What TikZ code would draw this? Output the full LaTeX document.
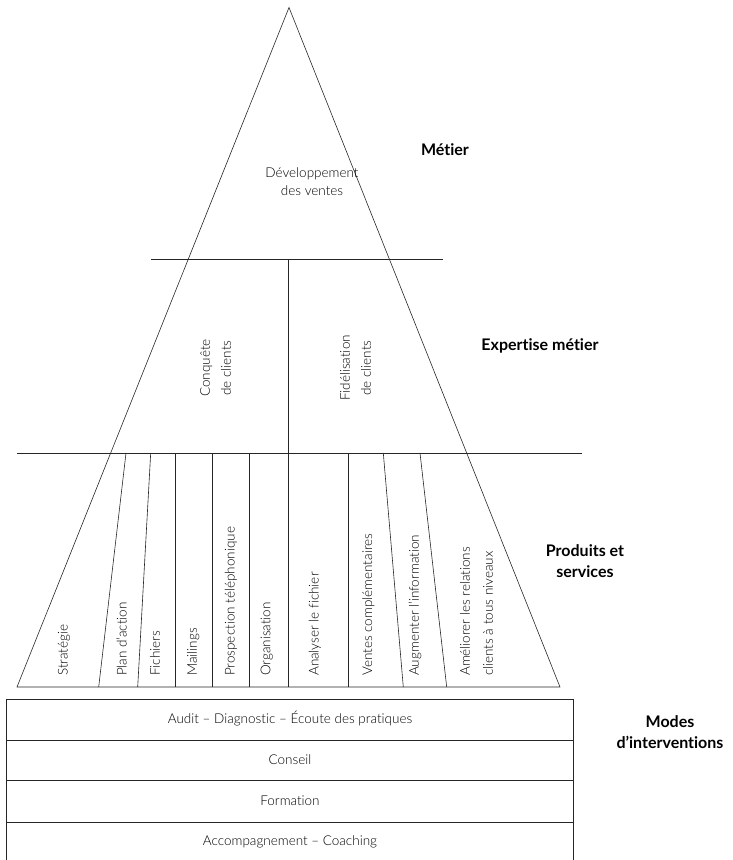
\documentclass[tikz,border=0pt]{standalone}
\usepackage{fontspec}
\IfFontExistsTF{Lato Light}{\setmainfont{Lato Light}[BoldFont={Lato Bold},Ligatures=NoCommon]}{\setmainfont{Lato}[Ligatures=NoCommon]}
\begin{document}
\begin{tikzpicture}[x=1pt,y=-1pt,
  ln/.style={line width=0.6pt,draw=black!85},
  bx/.style={line width=0.9pt,draw=black!85},
  lbl/.style={font=\fontsize{13.5}{18}\selectfont,text=black,inner sep=0pt},
  vlbl/.style={lbl,rotate=90,anchor=west},
  head/.style={font=\fontsize{16}{21}\selectfont\bfseries,text=black,align=center,inner sep=0pt}]
\useasboundingbox (0,0) rectangle (732,860);
% triangle
\coordinate (apex) at (289,7.5);
\coordinate (bl) at (17,687);
\coordinate (br) at (560,687);
\draw[ln] (bl) -- (apex) -- (br) -- cycle;
% horizontal lines
\coordinate (h1a) at (151,259); \coordinate (h1b) at (443,259);
\coordinate (h2a) at (17,453);  \coordinate (h2b) at (582,453);
\draw[ln] (h1a) -- (h1b);
\draw[ln] (h2a) -- (h2b);
\coordinate (vt) at (288,259); \coordinate (vb) at (288,687);
\draw[ln] (vt) -- (vb);
% dividers of bottom layer
\foreach \xa/\xb [count=\i] in {126/98.7,150.7/137.7,175/175,212.3/212.3,249/249,348.3/348.3,383.3/403.3,420/446.7}{
  \coordinate (d\i t) at (\xa,453);
  \coordinate (d\i b) at (\xb,687);
  \draw[ln] (d\i t) -- (d\i b);
}
% texts
\node[lbl,align=center] (dev) at (312,182) {Développement\\des ventes};
\node[lbl,align=center,rotate=90,font=\fontsize{13.5}{21}\selectfont] (conq) at (215.5,368) {Conquête\\de clients};
\node[lbl,align=center,rotate=90,font=\fontsize{13.5}{21}\selectfont] (fid) at (355.5,368) {Fidélisation\\de clients};
\node[vlbl] (s1) at (64,676) {Stratégie};
\node[vlbl] (s2) at (121.7,676) {Plan d'action};
\node[vlbl] (s3) at (155,676) {Fichiers};
\node[vlbl] (s4) at (193.3,676) {Mailings};
\node[vlbl] (s5) at (231,676) {Prospection téléphonique};
\node[vlbl] (s6) at (266.7,676) {Organisation};
\node[vlbl] (s7) at (315,676) {Analyser le fichier};
\node[vlbl] (s8) at (368.3,676) {Ventes complémentaires};
\node[vlbl] (s9) at (415,676) {Augmenter l'information};
\node[vlbl,align=left,font=\fontsize{13.5}{23}\selectfont] (s10) at (476.5,676) {Améliorer les relations\\clients à tous niveaux};
% right headings
\node[head] (metier) at (445,150) {Métier};
\node[head] (expert) at (540,346) {Expertise métier};
\node[head] (prod) at (585,561) {Produits et\\services};
\node[head] (modes) at (670,732) {Modes\\d’interventions};
% modes boxes
\coordinate (b0l) at (6.7,699);  \coordinate (b0r) at (573.3,699);
\coordinate (b1l) at (6.7,740);  \coordinate (b1r) at (573.3,740);
\coordinate (b2l) at (6.7,780.5);\coordinate (b2r) at (573.3,780.5);
\coordinate (b3l) at (6.7,822);  \coordinate (b3r) at (573.3,822);
\coordinate (b4l) at (6.7,860);  \coordinate (b4r) at (573.3,860);
\draw[bx] (b4l) -- (b0l) -- (b0r) -- (b4r);
\draw[bx] (b1l) -- (b1r);
\draw[bx] (b2l) -- (b2r);
\draw[bx] (b3l) -- (b3r);
\node[lbl] (m1) at (290,719) {Audit – Diagnostic – Écoute des pratiques};
\node[lbl] (m2) at (290,760) {Conseil};
\node[lbl] (m3) at (290,801) {Formation};
\node[lbl] (m4) at (290,842) {Accompagnement – Coaching};
\end{tikzpicture}
\end{document}
